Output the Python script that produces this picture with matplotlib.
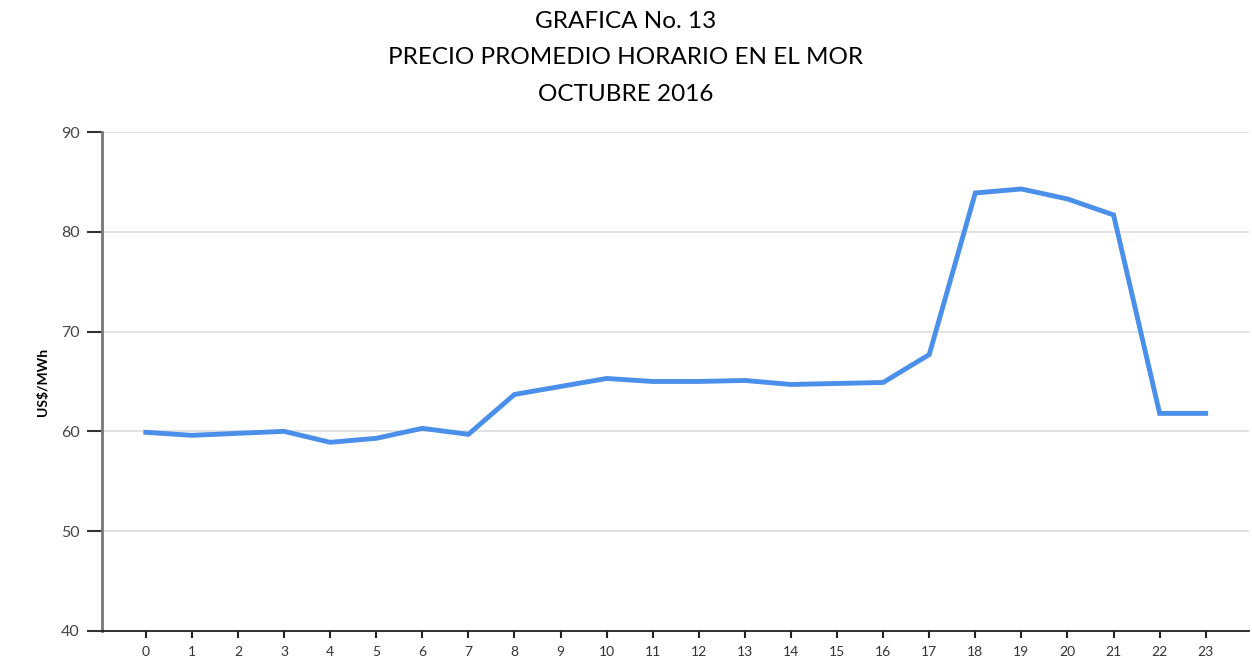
import matplotlib.pyplot as plt
import numpy as np

horas = list(range(24))
precio = [59.9, 59.6, 59.8, 60.0, 58.9, 59.3, 60.3, 59.7, 63.7, 64.5, 65.3, 65.0,
          65.0, 65.1, 64.7, 64.8, 64.9, 67.7, 83.9, 84.3, 83.3, 81.7, 61.8, 61.8]
y_ticks = [40, 50, 60, 70, 80, 90]

plt.rcParams['font.family'] = ['Lato', 'DejaVu Sans']

fig = plt.figure(figsize=(12.52, 6.64), dpi=100)
ax = fig.add_axes([0.0815, 0.05, 0.9165, 0.751])

ax.plot(horas, precio, color='#4a8fea', linewidth=3.5, solid_joinstyle='miter')

ax.set_xlim(-0.95, 23.95)
ax.set_ylim(40, 90)
ax.set_xticks(horas)
ax.set_yticks(y_ticks)
ax.tick_params(axis='x', direction='out', length=5, width=1.5, color='#222222',
               labelsize=10, labelcolor='#333333', pad=6)
ax.tick_params(axis='y', direction='out', length=11, width=1.5, color='#333333',
               labelsize=11.5, labelcolor='#444444', pad=5)
ax.yaxis.grid(True, color='#dddddd', linewidth=1.2)
ax.set_axisbelow(True)

for s in ['top', 'right']:
    ax.spines[s].set_visible(False)
ax.spines['left'].set_color('#777777')
ax.spines['left'].set_linewidth(2)
ax.spines['bottom'].set_color('#222222')
ax.spines['bottom'].set_linewidth(1.3)

ax.set_ylabel('US$/MWh', fontsize=10, fontweight='bold', labelpad=9)

fig.text(0.5, 0.968, 'GRAFICA No. 13', ha='center', va='center', fontsize=17.5)
fig.text(0.5, 0.913, 'PRECIO PROMEDIO HORARIO EN EL MOR', ha='center', va='center', fontsize=17.5)
fig.text(0.5, 0.857, 'OCTUBRE 2016', ha='center', va='center', fontsize=17.5)

fig.savefig('out.png', dpi=100)
